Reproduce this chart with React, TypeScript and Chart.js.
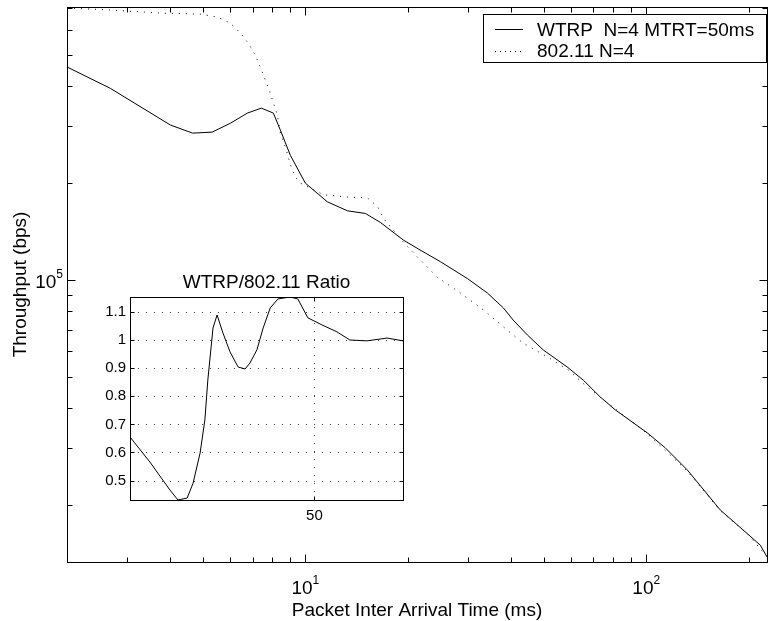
import React, { useEffect, useRef } from "react";
import { Chart, registerables } from "chart.js";
Chart.register(...registerables);

const FONT_FAMILY = '"Liberation Sans", Arial, Helvetica, sans-serif';

// WTRP N=4 MTRT=50ms (solid)
const wtrpTime = [2.0, 2.68, 4.02, 4.67, 5.33, 6.03, 6.76, 7.43, 8.06, 8.45, 9.04, 10.0, 11.6, 13.3, 15.0, 16.6, 19.4, 21.7, 24.9, 29.9, 34.2, 38.1, 40.7, 44.8, 49.9, 58.6, 65.3, 73.3, 81.1, 100.7, 113.7, 131.9, 164.8, 199, 216, 226];
const wtrpThroughput = [459000, 394000, 303000, 286000, 288000, 307000, 330000, 342000, 330000, 292000, 244000, 200000, 175000, 164000, 161000, 151000, 133000, 124000, 114000, 101000, 91100, 81900, 75100, 67500, 60600, 53700, 48900, 43300, 39500, 33500, 30100, 25700, 19300, 16200, 15000, 13800];

// 802.11 N=4 (dotted)
const dcfTime = [2.0, 2.68, 3.76, 4.92, 5.52, 6.03, 6.45, 6.81, 7.13, 7.38, 7.63, 7.84, 8.06, 8.28, 8.45, 8.79, 9.04, 9.35, 9.67, 11.3, 13.3, 15.2, 16.3, 16.9, 18.1, 19.4, 21.3, 24.4, 28.5, 33.3, 38.1, 43.5, 51.3, 59.1, 67.1, 78.4, 100.7, 131.9, 164.8, 199, 226];
const dcfThroughput = [700000, 690000, 675000, 670000, 656000, 628000, 585000, 544000, 500000, 459000, 418000, 389000, 355000, 325000, 286000, 254000, 228000, 209000, 200000, 184000, 181000, 180000, 169000, 156000, 143000, 131000, 118000, 102000, 91100, 80700, 71500, 63700, 57700, 52500, 46500, 40900, 33300, 25500, 19200, 16200, 13800];

// Inset: WTRP/802.11 ratio
const ratioIndex = [0, 5.4, 10.8, 13.0, 15.5, 17.1, 19.0, 20.3, 21.1, 22.5, 23.6, 25.2, 27.1, 29.3, 31.2, 32.5, 34.4, 36.1, 38.0, 40.1, 43.4, 45.5, 48.2, 52.0, 56.1, 59.6, 64.2, 69.7, 74.0];
const ratioValue = [0.655, 0.566, 0.467, 0.431, 0.438, 0.491, 0.598, 0.716, 0.858, 1.043, 1.089, 1.025, 0.958, 0.904, 0.897, 0.918, 0.965, 1.043, 1.114, 1.146, 1.153, 1.146, 1.079, 1.054, 1.029, 1.0, 0.997, 1.007, 0.997];

const xMajorTicks = [10, 100];
const xMajorExponents = ["1", "2"];
const xMinorTicks = [2, 3, 4, 5, 6, 7, 8, 9, 20, 30, 40, 50, 60, 70, 80, 90, 200];
const yMajorTicks = [100000];
const yMajorExponents = ["5"];
const yMinorTicks = [20000, 30000, 40000, 50000, 60000, 70000, 80000, 90000, 200000, 300000, 400000, 500000, 600000, 700000];
const insetYTicks = [0.5, 0.6, 0.7, 0.8, 0.9, 1, 1.1];
const insetYLabels = ["0.5", "0.6", "0.7", "0.8", "0.9", "1", "1.1"];
const insetXTicks = [50];
const insetXLabels = ["50"];

const legendLabels = ["WTRP  N=4 MTRT=50ms", "802.11 N=4"];
const xTitle = "Packet Inter Arrival Time (ms)";
const yTitle = "Throughput (bps)";
const insetTitle = "WTRP/802.11 Ratio";

const crisp = (v: number) => Math.round(v) + 0.5;

function drawPow(ctx: CanvasRenderingContext2D, base: string, exp: string, x: number, y: number, align: "center" | "right") {
  ctx.font = `19px ${FONT_FAMILY}`;
  const wb = ctx.measureText(base).width;
  ctx.font = `12px ${FONT_FAMILY}`;
  const we = ctx.measureText(exp).width;
  const total = wb + we;
  const x0 = align === "center" ? x - total / 2 : x - total;
  ctx.textAlign = "left";
  ctx.textBaseline = "alphabetic";
  ctx.font = `19px ${FONT_FAMILY}`;
  ctx.fillText(base, x0, y);
  ctx.font = `12px ${FONT_FAMILY}`;
  ctx.fillText(exp, x0 + wb, y - 10);
}

const mainFrame = {
  id: "mainFrame",
  afterDatasetsDraw(chart: any) {
    const { ctx, chartArea: a, scales } = chart;
    const xs = scales.x;
    const ys = scales.y;
    const L = crisp(a.left), R = crisp(a.right), T = crisp(a.top), B = crisp(a.bottom);
    ctx.save();
    ctx.strokeStyle = "#000";
    ctx.fillStyle = "#000";
    ctx.lineWidth = 1;
    ctx.setLineDash([]);
    ctx.strokeRect(L, T, R - L, B - T);
    ctx.beginPath();
    const xt = (v: number, len: number) => {
      const p = crisp(xs.getPixelForValue(v));
      ctx.moveTo(p, B); ctx.lineTo(p, B - len);
      ctx.moveTo(p, T); ctx.lineTo(p, T + len);
    };
    const yt = (v: number, len: number) => {
      const p = crisp(ys.getPixelForValue(v));
      ctx.moveTo(L, p); ctx.lineTo(L + len, p);
      ctx.moveTo(R, p); ctx.lineTo(R - len, p);
    };
    xMinorTicks.forEach((v) => xt(v, 5));
    xMajorTicks.forEach((v) => xt(v, 8));
    yMinorTicks.forEach((v) => yt(v, 5));
    yMajorTicks.forEach((v) => yt(v, 8));
    ctx.stroke();

    xMajorTicks.forEach((v, i) => {
      drawPow(ctx, "10", xMajorExponents[i], xs.getPixelForValue(v), 594, "center");
    });
    yMajorTicks.forEach((v, i) => {
      drawPow(ctx, "10", yMajorExponents[i], a.left - 4, ys.getPixelForValue(v) + 8, "right");
    });

    ctx.font = `19px ${FONT_FAMILY}`;
    ctx.textAlign = "center";
    ctx.textBaseline = "alphabetic";
    ctx.fillText(xTitle, (a.left + a.right) / 2, 616);
    ctx.save();
    ctx.translate(26, (a.top + a.bottom) / 2);
    ctx.rotate(-Math.PI / 2);
    ctx.fillText(yTitle, 0, 0);
    ctx.restore();

    // legend
    ctx.fillStyle = "#fff";
    ctx.fillRect(483, 14, 283, 48);
    ctx.strokeRect(483.5, 14.5, 283, 48);
    ctx.beginPath();
    ctx.moveTo(495, 29.5); ctx.lineTo(523, 29.5);
    ctx.stroke();
    ctx.setLineDash([1, 4]);
    ctx.beginPath();
    ctx.moveTo(495, 51.5); ctx.lineTo(523, 51.5);
    ctx.stroke();
    ctx.setLineDash([]);
    ctx.fillStyle = "#000";
    ctx.textAlign = "left";
    ctx.fillText(legendLabels[0], 537, 36);
    ctx.fillText(legendLabels[1], 537, 57);
    ctx.restore();
  },
};

const insetFrame = {
  id: "insetFrame",
  beforeDatasetsDraw(chart: any) {
    const { ctx, chartArea: a, scales } = chart;
    ctx.save();
    ctx.fillStyle = "#fff";
    ctx.fillRect(a.left, a.top, a.right - a.left, a.bottom - a.top);
    ctx.strokeStyle = "#444";
    ctx.lineWidth = 1;
    ctx.setLineDash([1, 7]);
    ctx.beginPath();
    insetYTicks.forEach((v) => {
      const p = crisp(scales.y.getPixelForValue(v));
      ctx.moveTo(a.left, p); ctx.lineTo(a.right, p);
    });
    insetXTicks.forEach((v) => {
      const p = crisp(scales.x.getPixelForValue(v));
      ctx.moveTo(p, a.bottom); ctx.lineTo(p, a.top);
    });
    ctx.stroke();
    ctx.restore();
  },
  afterDatasetsDraw(chart: any) {
    const { ctx, chartArea: a, scales } = chart;
    const L = crisp(a.left), R = crisp(a.right), T = crisp(a.top), B = crisp(a.bottom);
    ctx.save();
    ctx.strokeStyle = "#000";
    ctx.fillStyle = "#000";
    ctx.lineWidth = 1;
    ctx.setLineDash([]);
    ctx.strokeRect(L, T, R - L, B - T);
    ctx.beginPath();
    insetYTicks.forEach((v) => {
      const p = crisp(scales.y.getPixelForValue(v));
      ctx.moveTo(L, p); ctx.lineTo(L + 4, p);
      ctx.moveTo(R, p); ctx.lineTo(R - 4, p);
    });
    insetXTicks.forEach((v) => {
      const p = crisp(scales.x.getPixelForValue(v));
      ctx.moveTo(p, B); ctx.lineTo(p, B - 4);
      ctx.moveTo(p, T); ctx.lineTo(p, T + 4);
    });
    ctx.stroke();
    ctx.font = `15px ${FONT_FAMILY}`;
    ctx.textAlign = "right";
    ctx.textBaseline = "middle";
    insetYTicks.forEach((v, i) => {
      ctx.fillText(insetYLabels[i], a.left - 4, scales.y.getPixelForValue(v));
    });
    ctx.textAlign = "center";
    ctx.textBaseline = "alphabetic";
    insetXTicks.forEach((v, i) => {
      ctx.fillText(insetXLabels[i], scales.x.getPixelForValue(v), a.bottom + 20);
    });
    ctx.font = `19px ${FONT_FAMILY}`;
    ctx.fillText(insetTitle, (a.left + a.right) / 2, a.top - 9);
    ctx.restore();
  },
};

export default function App() {
  const mainRef = useRef<HTMLCanvasElement>(null);
  const insetRef = useRef<HTMLCanvasElement>(null);

  useEffect(() => {
    const main = new Chart(mainRef.current as HTMLCanvasElement, {
      type: "line",
      data: {
        datasets: [
          {
            label: legendLabels[0],
            data: wtrpTime.map((x, i) => ({ x, y: wtrpThroughput[i] })),
            borderColor: "#000",
            borderWidth: 1,
            pointRadius: 0,
            tension: 0,
            fill: false,
          },
          {
            label: legendLabels[1],
            data: dcfTime.map((x, i) => ({ x, y: dcfThroughput[i] })),
            borderColor: "#000",
            borderWidth: 1,
            borderDash: [1, 6],
            pointRadius: 0,
            tension: 0,
            fill: false,
          },
        ],
      },
      options: {
        responsive: false,
        animation: false,
        events: [],
        layout: { padding: { left: 67, top: 7, right: 1, bottom: 59 } },
        scales: {
          x: { type: "logarithmic", min: 2, max: 226, display: false },
          y: { type: "logarithmic", min: 13300, max: 705000, display: false },
        },
        plugins: { legend: { display: false }, tooltip: { enabled: false } },
      },
      plugins: [mainFrame],
    } as any);

    const inset = new Chart(insetRef.current as HTMLCanvasElement, {
      type: "line",
      data: {
        datasets: [
          {
            label: insetTitle,
            data: ratioIndex.map((x, i) => ({ x, y: ratioValue[i] })),
            borderColor: "#000",
            borderWidth: 1,
            pointRadius: 0,
            tension: 0,
            fill: false,
          },
        ],
      },
      options: {
        responsive: false,
        animation: false,
        events: [],
        layout: { padding: { left: 50, top: 37, right: 17, bottom: 40 } },
        scales: {
          x: { type: "linear", min: 0, max: 74, display: false },
          y: { type: "linear", min: 0.431, max: 1.153, display: false },
        },
        plugins: { legend: { display: false }, tooltip: { enabled: false } },
      },
      plugins: [insetFrame],
    } as any);

    return () => {
      main.destroy();
      inset.destroy();
    };
  }, []);

  return (
    <div style={{ position: "fixed", left: 0, top: 0, width: 768, height: 621, background: "#fff" }}>
      <canvas ref={mainRef} width={768} height={621} style={{ position: "absolute", left: 0, top: 0 }} />
      <canvas ref={insetRef} width={340} height={280} style={{ position: "absolute", left: 80, top: 260 }} />
    </div>
  );
}
